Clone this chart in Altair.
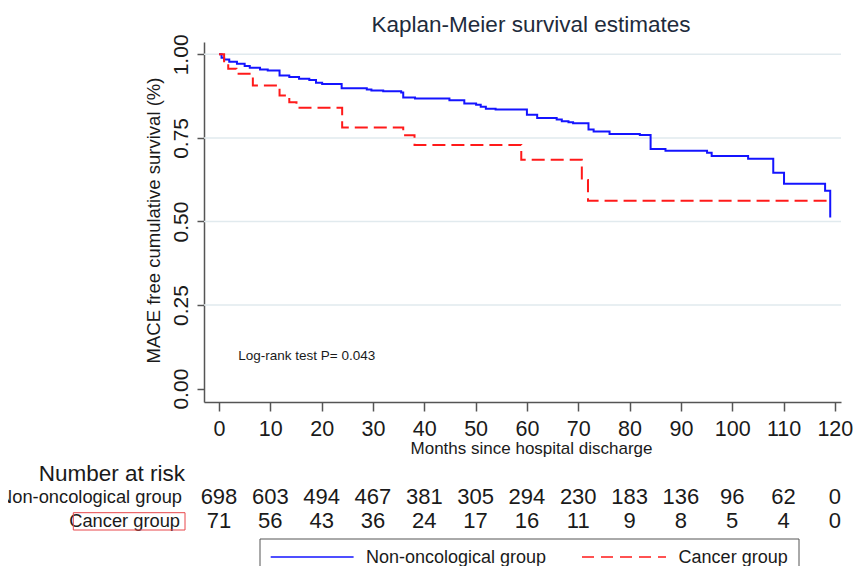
import altair as alt
import pandas as pd

# ---------------- data ----------------
months_non = [0, 0.5, 1, 2, 3.5, 5, 6, 8, 9.5, 11.8, 13.7, 15.6, 17.6, 18.9, 20.1, 23.9,
              28.8, 29.7, 32, 35.5, 35.9, 38.2, 44.9, 47.8, 50.1, 51, 52, 53.9, 60, 62,
              65.8, 66.8, 68.1, 69, 72, 73, 76.1, 82, 84.1, 87, 95.1, 96, 103.1, 108,
              110.1, 118.1, 119.1]
surv_non = [1.0, 0.99, 0.985, 0.978, 0.972, 0.965, 0.960, 0.955, 0.952, 0.937, 0.932,
            0.927, 0.923, 0.915, 0.911, 0.899, 0.895, 0.892, 0.890, 0.886, 0.871, 0.868,
            0.863, 0.853, 0.849, 0.843, 0.837, 0.835, 0.819, 0.810, 0.805, 0.800, 0.797,
            0.794, 0.775, 0.769, 0.762, 0.759, 0.717, 0.712, 0.706, 0.696, 0.688, 0.646,
            0.613, 0.592, 0.512]

months_cancer = [0, 1, 1.8, 3.4, 6.6, 11.8, 13.7, 15.1, 24.0, 35.9, 38.1, 58.9, 70.7, 71.9, 118.8]
surv_cancer = [1.0, 0.972, 0.957, 0.942, 0.907, 0.877, 0.857, 0.840, 0.781, 0.758, 0.729,
               0.685, 0.624, 0.562, 0.562]

risk_months = [0, 10, 20, 30, 40, 50, 60, 70, 80, 90, 100, 110, 120]
risk_non = [698, 603, 494, 467, 381, 305, 294, 230, 183, 136, 96, 62, 0]
risk_cancer = [71, 56, 43, 36, 24, 17, 16, 11, 9, 8, 5, 4, 0]

y_ticks = [0, 0.25, 0.5, 0.75, 1.0]
grid_vals = [0.25, 0.5, 0.75, 1.0]

series_names = ["Non-oncological group", "Cancer group"]
title_text = "Kaplan-Meier survival estimates"
logrank_text = "Log-rank test P= 0.043"

# ---------------- tables ----------------
df_non = pd.DataFrame({"month": months_non, "surv": surv_non})
df_cancer = pd.DataFrame({"month": months_cancer, "surv": surv_cancer})
df_risk_non = pd.DataFrame({"month": risk_months, "n": [str(v) for v in risk_non]})
df_risk_cancer = pd.DataFrame({"month": risk_months, "n": [str(v) for v in risk_cancer]})
df_grid = pd.DataFrame({"y": grid_vals})
one = pd.DataFrame({"a": [0]})

W, H = 637, 360
FONT = "Liberation Sans"
BLUE = "#1414ff"
RED = "#ff1a1a"
INK = "#1a1a1a"

xscale = alt.Scale(domain=[-2.92, 121.2], nice=False, zero=False)
yscale = alt.Scale(domain=[-0.04, 1.037], nice=False, zero=False)

x_axis = alt.Axis(values=risk_months, labelFontSize=21.5, labelColor=INK, labelFlush=False,
                  labelBaseline="alphabetic", labelPadding=24.5,
                  tickSize=9, tickColor="#555555", tickWidth=1.5,
                  domainColor="#555555", domainWidth=1.5, grid=False,
                  title="Months since hospital discharge", titleFontSize=17,
                  titleFontWeight="normal", titleColor=INK, titleX=327, titleY=51.5,
                  titleBaseline="alphabetic")
y_axis = alt.Axis(values=y_ticks, format=".2f", labelAngle=270, labelAlign="center",
                  labelBaseline="alphabetic", labelFontSize=21, labelColor=INK,
                  labelPadding=10, tickSize=7, tickColor="#555555", tickWidth=1.5,
                  domainColor="#555555", domainWidth=1.5, grid=False,
                  title="MACE free cumulative survival (%)", titleFontSize=18.5,
                  titleFontWeight="normal", titleColor=INK, titleAngle=270,
                  titleX=-45, titleY=178, titleBaseline="alphabetic", titleAlign="center")

grid = alt.Chart(df_grid).mark_rule(color="#e1eaee", strokeWidth=1.5).encode(
    y=alt.Y("y:Q", scale=yscale, axis=y_axis),
    x=alt.value(0), x2=alt.value(W))

line_non = alt.Chart(df_non).mark_line(interpolate="step-after", color=BLUE,
                                       strokeWidth=2).encode(
    x=alt.X("month:Q", scale=xscale, axis=x_axis),
    y=alt.Y("surv:Q", scale=yscale))

line_cancer = alt.Chart(df_cancer).mark_line(interpolate="step-after", color=RED,
                                             strokeWidth=2, strokeDash=[13, 6]).encode(
    x=alt.X("month:Q", scale=xscale),
    y=alt.Y("surv:Q", scale=yscale))

risk_row1 = alt.Chart(df_risk_non).mark_text(fontSize=22, color=INK, align="center",
                                             baseline="alphabetic").encode(
    x=alt.X("month:Q", scale=xscale), y=alt.value(461.5), text="n:N")
risk_row2 = alt.Chart(df_risk_cancer).mark_text(fontSize=22, color=INK, align="center",
                                                baseline="alphabetic").encode(
    x=alt.X("month:Q", scale=xscale), y=alt.value(485.5), text="n:N")

def label(text, x, y, size, align="left", color=INK):
    return alt.Chart(one).mark_text(fontSize=size, color=color, align=align,
                                    baseline="alphabetic").encode(
        x=alt.value(x), y=alt.value(y), text=alt.value(text))

title = label(title_text, 327, -9.7, 22.5, align="center", color="#1e2b3c")
logrank = label(logrank_text, 34.3, 318, 13.5)
nar = label("Number at risk", -19, 439, 22.5, align="right")
row1 = label(series_names[0], -22, 461.3, 18.3, align="right")
row2 = label(series_names[1], -24, 484.7, 18.3, align="right")

box = alt.Chart(one).mark_rect(fill=None, stroke="#e8474a", strokeWidth=1).encode(
    x=alt.value(-130.7), x2=alt.value(-19), y=alt.value(470.7), y2=alt.value(488))

legend_box = alt.Chart(one).mark_rect(fill=None, stroke="#555555", strokeWidth=1).encode(
    x=alt.value(56), x2=alt.value(595), y=alt.value(497), y2=alt.value(570))
leg_line1 = alt.Chart(one).mark_rule(color=BLUE, strokeWidth=1.5).encode(
    x=alt.value(66.7), x2=alt.value(149.6), y=alt.value(515))
leg_line2 = alt.Chart(one).mark_rule(color=RED, strokeWidth=1.5, strokeDash=[12, 7]).encode(
    x=alt.value(378), x2=alt.value(462), y=alt.value(515))
leg_text1 = label(series_names[0], 162, 521, 18)
leg_text2 = label(series_names[1], 474.6, 521, 18)

chart = alt.layer(
    grid, line_non, line_cancer, risk_row1, risk_row2, title, logrank, nar, row1, row2,
    box, legend_box, leg_line1, leg_line2, leg_text1, leg_text2
).properties(
    width=W, height=H,
    padding={"left": 196, "top": 34, "right": 12, "bottom": 164},
    autosize=alt.AutoSizeParams(type="none"),
).configure(font=FONT).configure_view(stroke=None)

chart.save("out.html", embed_options={"renderer": "svg", "actions": False})
